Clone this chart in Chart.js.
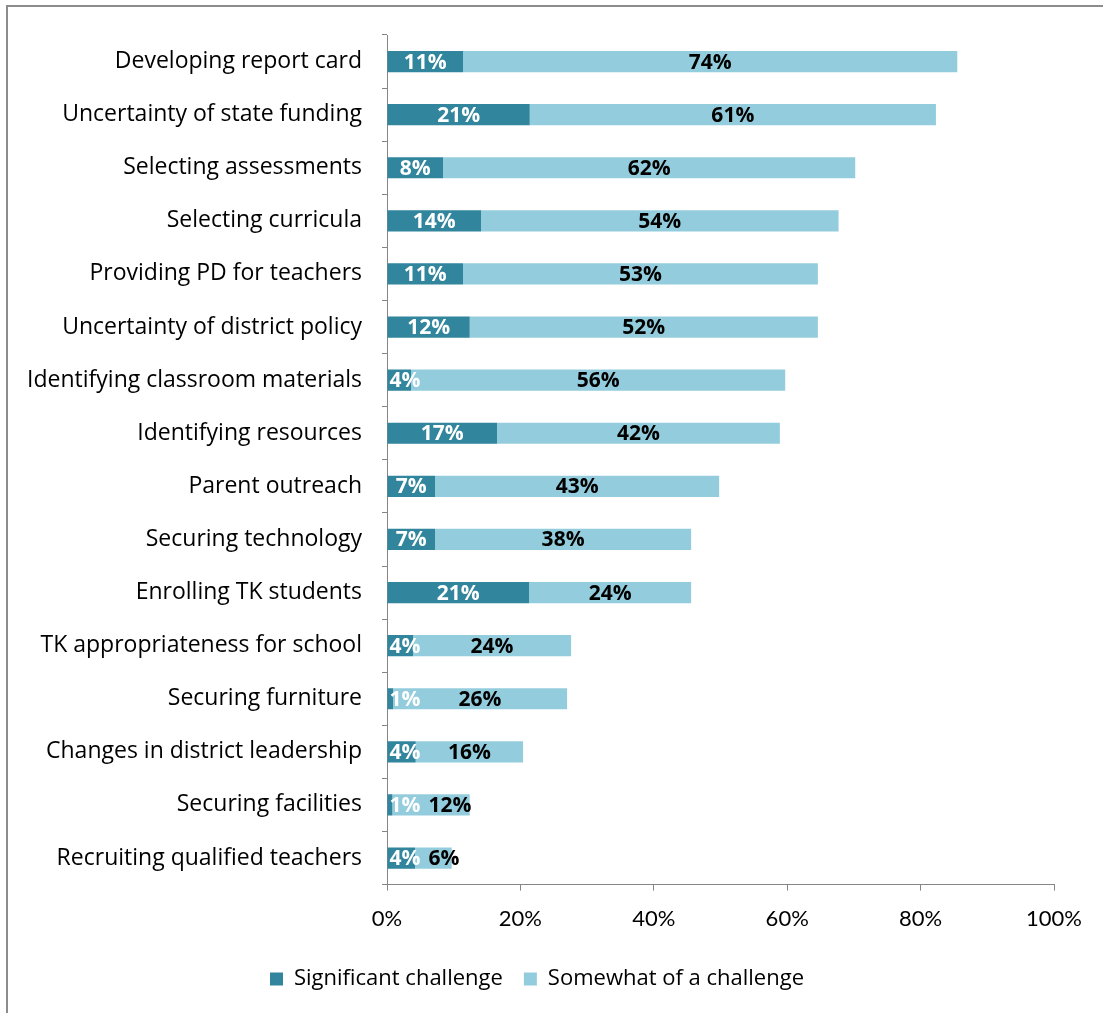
<!DOCTYPE html>
<html>
<head>
<meta charset="utf-8">
<script src="https://cdn.jsdelivr.net/npm/chart.js@4"></script>
<style>
  body { margin: 0; background: #fff; }
  #wrap { position: relative; width: 1103px; height: 1013px; }
</style>
</head>
<body>
<div id="wrap"><canvas id="chart-challenges"></canvas></div>
<script>
// chart data
var categories = [
  "Developing report card",
  "Uncertainty of state funding",
  "Selecting assessments",
  "Selecting curricula",
  "Providing PD for teachers",
  "Uncertainty of district policy",
  "Identifying classroom materials",
  "Identifying resources",
  "Parent outreach",
  "Securing technology",
  "Enrolling TK students",
  "TK appropriateness for school",
  "Securing furniture",
  "Changes in district leadership",
  "Securing facilities",
  "Recruiting qualified teachers"
];
var significant = [11.4, 21.4, 8.4, 14.1, 11.4, 12.4, 3.6, 16.5, 7.2, 7.2, 21.3, 3.9, 0.9, 4.3, 0.8, 4.2];
var somewhat = [74.1, 60.9, 61.8, 53.6, 53.2, 52.2, 56.1, 42.4, 42.6, 38.4, 24.3, 23.7, 26.1, 16.1, 11.6, 5.5];
var tickValues = [0, 20, 40, 60, 80, 100];

var FONT = "'Open Sans', 'Noto Sans', sans-serif";
var TICKFONT = "Lato, 'Noto Sans', sans-serif";

// draws the % labels inside the bars, nudged right when a segment is too thin
var barLabels = {
  id: "barLabels",
  afterDatasetsDraw: function(chart) {
    var ctx = chart.ctx;
    var m0 = chart.getDatasetMeta(0);
    var m1 = chart.getDatasetMeta(1);
    ctx.save();
    ctx.font = "bold 21px " + FONT;
    ctx.textBaseline = "middle";
    ctx.textAlign = "center";
    for (var i = 0; i < categories.length; i++) {
      var b0 = m0.data[i], b1 = m1.data[i];
      var t0 = Math.round(significant[i]) + "%";
      var t1 = Math.round(somewhat[i]) + "%";
      var w0 = ctx.measureText(t0).width;
      var w1 = ctx.measureText(t1).width;
      var x0 = Math.max((b0.base + b0.x) / 2, b0.base + w0 / 2 + 2);
      var x1 = Math.max((b1.base + b1.x) / 2, x0 + w0 / 2 + w1 / 2 + 8);
      ctx.fillStyle = "#ffffff";
      ctx.fillText(t0, x0, b0.y + 1);
      ctx.fillStyle = "#000000";
      ctx.fillText(t1, x1, b1.y + 1);
    }
    ctx.restore();
  }
};

// thin frame round the chart like the original
var frame = {
  id: "frame",
  beforeDraw: function(chart) {
    var ctx = chart.ctx;
    ctx.save();
    ctx.strokeStyle = "#8c8c8c";
    ctx.lineWidth = 2;
    ctx.beginPath();
    ctx.moveTo(7, chart.height);
    ctx.lineTo(7, 6);
    ctx.lineTo(chart.width, 6);
    ctx.stroke();
    ctx.restore();
  }
};

var ctx = document.getElementById("chart-challenges").getContext("2d");
var chart = new Chart(ctx, {
  type: "bar",
  data: {
    labels: categories,
    datasets: [
      {
        label: "Significant challenge",
        backgroundColor: "#31859C",
        data: significant,
        barPercentage: 0.4,
        categoryPercentage: 1
      },
      {
        label: "Somewhat of a challenge",
        backgroundColor: "#93CDDD",
        data: somewhat,
        barPercentage: 0.4,
        categoryPercentage: 1
      }
    ]
  },
  options: {
    indexAxis: "y",
    responsive: true,
    maintainAspectRatio: false,
    animation: false,
    layout: { padding: { left: 20, right: 49, top: 35, bottom: 13 } },
    plugins: {
      tooltip: { enabled: false },
      legend: {
        position: "bottom",
        labels: {
          font: { family: FONT, size: 22 },
          color: "#000",
          boxWidth: 13,
          boxHeight: 13,
          padding: 21
        }
      }
    },
    scales: {
      x: {
        stacked: true,
        min: 0,
        max: 100,
        afterBuildTicks: function(scale) {
          scale.ticks = tickValues.map(function(v) { return { value: v }; });
        },
        grid: { drawOnChartArea: false, tickLength: 6, color: "#868686" },
        border: { color: "#868686" },
        ticks: {
          padding: 15,
          color: "#000",
          font: { family: TICKFONT, size: 22 },
          callback: function(v) { return v + "%"; }
        }
      },
      y: {
        stacked: true,
        afterFit: function(scale) { scale.width = 367; },
        grid: { drawOnChartArea: false, tickLength: 5, color: "#868686", offset: true },
        border: { color: "#868686" },
        ticks: {
          padding: 20,
          color: "#000",
          autoSkip: false,
          font: { family: FONT, size: 23 }
        }
      }
    }
  },
  plugins: [frame, barLabels]
});
</script>
</body>
</html>
